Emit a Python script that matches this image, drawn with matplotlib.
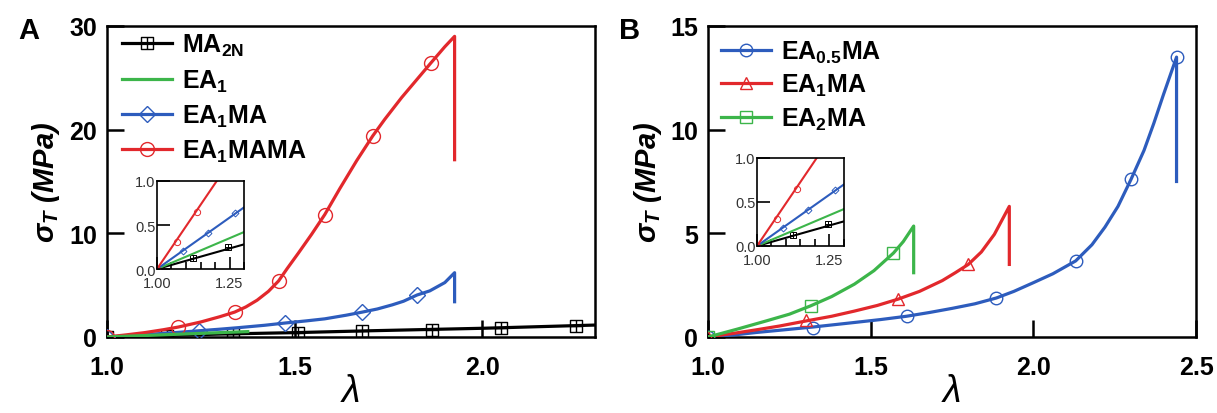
#!/usr/bin/env python3
import matplotlib
matplotlib.use("Agg")
import matplotlib.pyplot as plt
from matplotlib.lines import Line2D
from matplotlib.path import Path
from matplotlib.ticker import MultipleLocator

plt.rcParams['font.family'] = ['Liberation Sans', 'DejaVu Sans']
plt.rcParams['mathtext.fontset'] = 'custom'
plt.rcParams['mathtext.rm'] = 'Liberation Sans:bold'
plt.rcParams['mathtext.bf'] = 'Liberation Sans:bold'
plt.rcParams['mathtext.it'] = 'Liberation Sans:bold:italic'

# ---- panel A: curves (lambda, sigma_T in MPa), last point = fracture drop
a_red_lam = [1.00, 1.05, 1.10, 1.15, 1.19, 1.25, 1.30, 1.34, 1.37, 1.40, 1.43, 1.457, 1.48, 1.51,
             1.545, 1.58, 1.62, 1.665, 1.708, 1.74, 1.785, 1.82, 1.862, 1.90, 1.926, 1.926]
a_red_sig = [0.00, 0.20, 0.42, 0.70, 0.96, 1.45, 1.95, 2.40, 2.90, 3.55, 4.40, 5.40, 6.60, 8.10,
             9.90, 11.8, 14.3, 17.0, 19.4, 21.0, 23.1, 24.6, 26.4, 28.0, 29.0, 17.1]
a_blue_lam = [1.00, 1.05, 1.10, 1.18, 1.245, 1.30, 1.35, 1.42, 1.475, 1.53, 1.58, 1.637, 1.68,
              1.72, 1.76, 1.79, 1.826, 1.86, 1.90, 1.926, 1.926]
a_blue_sig = [0.00, 0.11, 0.23, 0.42, 0.60, 0.75, 0.90, 1.13, 1.35, 1.55, 1.75, 2.10, 2.40,
              2.70, 3.10, 3.45, 4.05, 4.45, 5.25, 6.20, 3.40]
a_black_lam = [1.00, 1.30, 1.50, 1.70, 2.00, 2.30]
a_black_sig = [0.00, 0.28, 0.42, 0.60, 0.84, 1.15]
a_green_lam = [1.00, 1.30, 1.375]
a_green_sig = [0.00, 0.42, 0.52]

# ---- panel A: marker positions
a_red_mk_lam = [1.00, 1.19, 1.34, 1.457, 1.58, 1.708, 1.862]
a_red_mk_sig = [0.00, 0.96, 2.40, 5.40, 11.8, 19.4, 26.4]
a_blue_mk_lam = [1.00, 1.245, 1.475, 1.68, 1.826]
a_blue_mk_sig = [0.00, 0.60, 1.35, 2.40, 4.05]
a_black_mk_lam = [1.00, 1.16, 1.335, 1.51, 1.68, 1.866, 2.05, 2.25]
a_black_mk_sig = [0.00, 0.12, 0.28, 0.40, 0.55, 0.70, 0.86, 1.04]

# ---- inset (small strain region), same in both panels
in_red_lam = [1.00, 1.206]
in_red_sig = [0.00, 1.00]
in_blue_lam = [1.00, 1.30]
in_blue_sig = [0.00, 0.70]
in_green_lam = [1.00, 1.30]
in_green_sig = [0.00, 0.42]
in_black_lam = [1.00, 1.30]
in_black_sig = [0.00, 0.28]
in_red_mk_lam = [1.00, 1.069, 1.138]
in_red_mk_sig = [0.00, 0.31, 0.65]
in_blue_mk_lam = [1.00, 1.09, 1.175, 1.27]
in_blue_mk_sig = [0.00, 0.20, 0.41, 0.64]
in_black_mk_lam = [1.00, 1.123, 1.245]
in_black_mk_sig = [0.00, 0.125, 0.25]

# ---- panel B
b_blue_lam = [1.00, 1.08, 1.15, 1.23, 1.322, 1.45, 1.53, 1.61, 1.68, 1.75, 1.82, 1.886, 1.94,
              2.00, 2.06, 2.13, 2.18, 2.22, 2.26, 2.30, 2.34, 2.37, 2.40, 2.44, 2.44]
b_blue_sig = [0.00, 0.10, 0.22, 0.34, 0.48, 0.70, 0.84, 1.00, 1.18, 1.38, 1.60, 1.88, 2.20,
              2.62, 3.05, 3.67, 4.45, 5.30, 6.30, 7.60, 9.00, 10.3, 11.7, 13.5, 7.5]
b_red_lam = [1.00, 1.08, 1.15, 1.22, 1.30, 1.38, 1.45, 1.52, 1.585, 1.65, 1.72, 1.76, 1.80,
             1.84, 1.88, 1.926, 1.926]
b_red_sig = [0.00, 0.18, 0.35, 0.53, 0.77, 1.00, 1.25, 1.52, 1.83, 2.20, 2.72, 3.10, 3.50,
             4.10, 4.95, 6.30, 3.50]
b_green_lam = [1.00, 1.09, 1.18, 1.25, 1.315, 1.38, 1.45, 1.51, 1.57, 1.60, 1.632, 1.632]
b_green_sig = [0.00, 0.38, 0.78, 1.10, 1.50, 1.95, 2.55, 3.20, 4.05, 4.60, 5.35, 3.10]

b_blue_mk_lam = [1.00, 1.322, 1.61, 1.886, 2.13, 2.30, 2.44]
b_blue_mk_sig = [0.00, 0.45, 1.00, 1.88, 3.67, 7.60, 13.5]
b_red_mk_lam = [1.00, 1.30, 1.585, 1.80]
b_red_mk_sig = [0.00, 0.80, 1.83, 3.50]
b_green_mk_lam = [1.00, 1.315, 1.57]
b_green_mk_sig = [0.00, 1.50, 4.05]

a_labels = [r'MA$_{\mathbf{2N}}$', 'EA$_{1}$', 'EA$_{1}$MA', 'EA$_{1}$MAMA']
b_labels = ['EA$_{0.5}$MA', 'EA$_{1}$MA', 'EA$_{2}$MA']

RED = '#e2282c'
BLUE = '#2d5cbd'
GREEN = '#3cb54a'
BLACK = '#000000'

# square with a plus inside
sqplus = Path([(-1, -1), (1, -1), (1, 1), (-1, 1), (-1, -1), (0, -1), (0, 1), (-1, 0), (1, 0)],
              [Path.MOVETO, Path.LINETO, Path.LINETO, Path.LINETO, Path.CLOSEPOLY,
               Path.MOVETO, Path.LINETO, Path.MOVETO, Path.LINETO])

LW = 2.3
MEW = 1.0


def style_main(ax, xlim, ylim, xticks, yticks):
    ax.set_xlim(*xlim)
    ax.set_ylim(*ylim)
    ax.set_xticks(xticks)
    ax.set_yticks(yticks)
    ax.set_xticklabels(['%.1f' % t for t in xticks])
    ax.set_yticklabels(['%d' % t for t in yticks])
    for s in ax.spines.values():
        s.set_linewidth(1.8)
    ax.tick_params(direction='in', length=12, width=1.8, labelsize=18, pad=7)
    ax.tick_params(axis='x', pad=13)
    for lab in ax.get_xticklabels() + ax.get_yticklabels():
        lab.set_fontweight('bold')
    ax.set_xlabel('λ', fontsize=27, fontstyle='italic', labelpad=-4)
    ax.set_ylabel('σ$_{T}$ (MPa)', fontsize=21, fontweight='bold', fontstyle='italic', labelpad=5)


def draw_inset(ins):
    ins.plot(in_black_lam, in_black_sig, color=BLACK, lw=1.5)
    ins.plot(in_black_mk_lam, in_black_mk_sig, ls='none', marker=sqplus, ms=5, mfc='none', mec=BLACK, mew=0.7)
    ins.plot(in_green_lam, in_green_sig, color=GREEN, lw=1.5)
    ins.plot(in_blue_lam, in_blue_sig, color=BLUE, lw=1.5)
    ins.plot(in_blue_mk_lam, in_blue_mk_sig, ls='none', marker='D', ms=3.5, mfc='none', mec=BLUE, mew=0.7)
    ins.plot(in_red_lam, in_red_sig, color=RED, lw=1.5)
    ins.plot(in_red_mk_lam, in_red_mk_sig, ls='none', marker='o', ms=4.5, mfc='none', mec=RED, mew=0.7)
    ins.set_xlim(1.0, 1.30)
    ins.set_ylim(0.0, 1.0)
    ins.set_xticks([1.00, 1.25])
    ins.set_xticklabels(['1.00', '1.25'])
    ins.set_yticks([0.0, 0.5, 1.0])
    ins.set_yticklabels(['0.0', '0.5', '1.0'])
    ins.xaxis.set_minor_locator(MultipleLocator(0.05))
    for s in ins.spines.values():
        s.set_linewidth(1.2)
    ins.tick_params(direction='in', length=9, width=1.2, labelsize=10.5, pad=1, labelcolor='#333333')
    ins.tick_params(which='minor', direction='in', length=5, width=1.2)
    ins.tick_params(axis='x', pad=5)


fig = plt.figure(figsize=(12.17, 4.14), dpi=100)
ax_a = fig.add_axes([0.0879, 0.1836, 0.401, 0.7512])
ax_b = fig.add_axes([0.5818, 0.1836, 0.401, 0.7512])

# panel A
ax_a.plot(a_black_lam, a_black_sig, color=BLACK, lw=LW, zorder=3)
ax_a.plot(a_black_mk_lam, a_black_mk_sig, ls='none', marker=sqplus, ms=9, mfc='none', mec=BLACK, mew=MEW, zorder=3)
ax_a.plot(a_blue_lam, a_blue_sig, color=BLUE, lw=LW, zorder=4)
ax_a.plot(a_blue_mk_lam, a_blue_mk_sig, ls='none', marker='D', ms=8, mfc='none', mec=BLUE, mew=MEW, zorder=4)
ax_a.plot(a_red_lam, a_red_sig, color=RED, lw=LW, zorder=5)
ax_a.plot(a_red_mk_lam, a_red_mk_sig, ls='none', marker='o', ms=10, mfc='none', mec=RED, mew=MEW, zorder=5)
ax_a.plot(a_green_lam, a_green_sig, color=GREEN, lw=LW, zorder=6)
style_main(ax_a, (1.0, 2.3), (0, 30), [1.0, 1.5, 2.0], [0, 10, 20, 30])

h_a = [Line2D([], [], color=BLACK, lw=LW, marker=sqplus, ms=9, mfc='none', mec=BLACK, mew=MEW),
       Line2D([], [], color=GREEN, lw=LW),
       Line2D([], [], color=BLUE, lw=LW, marker='D', ms=8, mfc='none', mec=BLUE, mew=MEW),
       Line2D([], [], color=RED, lw=LW, marker='o', ms=10, mfc='none', mec=RED, mew=MEW)]
ax_a.legend(h_a, a_labels, loc='upper left', bbox_to_anchor=(0.018, 1.0), frameon=False,
            prop={'size': 18, 'weight': 'bold'},
            handlelength=2.0, handletextpad=0.4, labelspacing=0.36, borderaxespad=0.0, borderpad=0.25)

# panel B
ax_b.plot(b_blue_lam, b_blue_sig, color=BLUE, lw=LW, zorder=3)
ax_b.plot(b_blue_mk_lam, b_blue_mk_sig, ls='none', marker='o', ms=9, mfc='none', mec=BLUE, mew=MEW, zorder=3)
ax_b.plot(b_red_lam, b_red_sig, color=RED, lw=LW, zorder=4)
ax_b.plot(b_red_mk_lam, b_red_mk_sig, ls='none', marker='^', ms=9, mfc='none', mec=RED, mew=MEW, zorder=4)
ax_b.plot(b_green_lam, b_green_sig, color=GREEN, lw=LW, zorder=5)
ax_b.plot(b_green_mk_lam, b_green_mk_sig, ls='none', marker='s', ms=9, mfc='none', mec=GREEN, mew=MEW, zorder=5)
style_main(ax_b, (1.0, 2.5), (0, 15), [1.0, 1.5, 2.0, 2.5], [0, 5, 10, 15])

h_b = [Line2D([], [], color=BLUE, lw=LW, marker='o', ms=9, mfc='none', mec=BLUE, mew=MEW),
       Line2D([], [], color=RED, lw=LW, marker='^', ms=9, mfc='none', mec=RED, mew=MEW),
       Line2D([], [], color=GREEN, lw=LW, marker='s', ms=9, mfc='none', mec=GREEN, mew=MEW)]
ax_b.legend(h_b, b_labels, loc='upper left', frameon=False, prop={'size': 18, 'weight': 'bold'},
            handlelength=2.0, handletextpad=0.4, labelspacing=0.3, borderaxespad=0.2, borderpad=0.3)

# insets
ins_a = fig.add_axes([0.129, 0.3478, 0.0715, 0.2126])
draw_inset(ins_a)
ins_b = fig.add_axes([0.622, 0.4034, 0.0715, 0.2126])
draw_inset(ins_b)

fig.text(0.015, 0.906, 'A', fontsize=21, fontweight='bold', va='baseline')
fig.text(0.509, 0.906, 'B', fontsize=21, fontweight='bold', va='baseline')

fig.savefig('out.png', dpi=100)
